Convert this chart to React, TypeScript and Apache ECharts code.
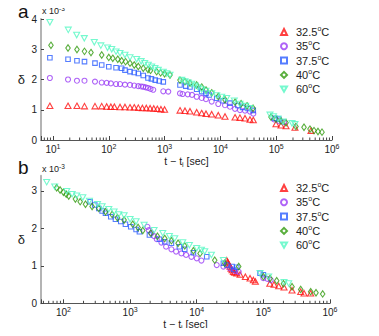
import React, { useEffect, useRef } from 'react';
import * as echarts from 'echarts';

// ---------- series meta ----------
const seriesNames = ['32.5°C', '35°C', '37.5°C', '40°C', '60°C'];
const seriesColors = ['#ff1010', '#9a3cf5', '#2a5cff', '#2f9a0c', '#52f7c2'];
const seriesSymbols = ['triangle', 'circle', 'rect', 'diamond', 'path://M0,0L10,0L5,8.66Z'];
const seriesSizes: any[] = [[6, 5.5], 5, 4.5, [4.5, 6.5], [6, 5.5]];

// ---------- panel a : [t - ti (sec), delta (x1e-3)] ----------
const a325: [number, number][] = [
  [8.8, 1.13], [18.6, 1.13], [26.9, 1.13], [36.7, 1.12], [56.6, 1.12], [74.7, 1.12], [91.7, 1.11], [109, 1.1],
  [126, 1.1], [159, 1.09], [195, 1.09], [240, 1.08], [286, 1.08], [338, 1.07], [400, 1.06], [470, 1.06],
  [550, 1.05], [640, 1.04], [740, 1.03], [860, 1.02], [1000, 1.01],
  [1890, 0.98], [2320, 0.97], [2850, 0.95], [3760, 0.92], [4620, 0.89], [5520, 0.87], [6980, 0.85],
  [9160, 0.82], [12100, 0.78], [18300, 0.75], [22400, 0.74], [27600, 0.72], [33900, 0.68], [38900, 0.66],
  [99100, 0.53], [121900, 0.49], [150000, 0.46], [217000, 0.41], [420000, 0.31],
];
const a35: [number, number][] = [
  [8.8, 2.05], [18.6, 2.0], [26.9, 1.96], [36.7, 1.96], [56.6, 1.93], [74.7, 1.9], [91.7, 1.89], [109, 1.87],
  [135, 1.85], [159, 1.85], [195, 1.83], [240, 1.82], [286, 1.8], [338, 1.78], [380, 1.77], [415, 1.76],
  [460, 1.74], [504, 1.72], [560, 1.69], [627, 1.66], [948, 1.61], [1165, 1.6],
  [1888, 1.54], [2100, 1.52], [2600, 1.51], [3100, 1.49], [3758, 1.43], [4620, 1.39], [5520, 1.35],
  [6980, 1.27], [9160, 1.19], [12100, 1.15], [14860, 1.1], [18280, 1.03], [22440, 0.99], [27600, 0.97],
  [33900, 0.94], [38900, 0.87],
  [91400, 0.68], [112200, 0.63], [138000, 0.59],
];
const a375: [number, number][] = [
  [8.8, 2.72], [18.6, 2.67], [26.9, 2.62], [36.7, 2.59], [56.6, 2.54], [74.7, 2.48], [100, 2.42], [135, 2.39],
  [170, 2.37], [195, 2.31], [240, 2.26], [286, 2.23], [338, 2.2], [415, 2.13], [504, 2.05], [580, 2.02],
  [680, 1.98], [800, 1.95], [948, 1.92],
  [1888, 1.82], [2400, 1.78], [2851, 1.75], [3758, 1.68], [4620, 1.6], [5520, 1.54], [6300, 1.49],
  [8600, 1.38], [11200, 1.3], [14860, 1.22], [20600, 1.14], [25000, 1.08], [31300, 1.04], [38800, 0.98],
  [95000, 0.72], [111000, 0.69],
];
const a40: [number, number][] = [
  [9.2, 3.13], [18.6, 3.04], [26.9, 2.99], [36.7, 2.93], [48, 2.89], [74.7, 2.81], [100, 2.73], [118, 2.7],
  [145, 2.67], [170, 2.62], [200, 2.59], [240, 2.54], [286, 2.48], [338, 2.43], [415, 2.37], [504, 2.33],
  [560, 2.3], [721, 2.26], [850, 2.22], [1000, 2.19], [1250, 2.15],
  [1888, 1.98], [2321, 1.93], [2851, 1.88], [3758, 1.82], [4620, 1.75], [5520, 1.65], [6980, 1.56],
  [9160, 1.44], [12080, 1.33], [18300, 1.25], [23500, 1.2], [30000, 1.13], [38500, 1.05],
  [80700, 0.76], [99100, 0.69], [121900, 0.63], [150000, 0.57], [226000, 0.45], [315000, 0.42],
  [403000, 0.36], [476000, 0.31], [561000, 0.28], [662000, 0.26],
];
const a60: [number, number][] = [
  [8.8, 3.89], [18.8, 3.64], [26.6, 3.47], [36.4, 3.36], [55, 3.23], [72, 3.12], [95, 3.05], [113, 3.0],
  [135, 2.92], [159, 2.87], [195, 2.81], [240, 2.73], [316, 2.67], [380, 2.6], [440, 2.54], [510, 2.48],
  [587, 2.42], [673, 2.37], [771, 2.31], [948, 2.25], [1091, 2.2], [1250, 2.15],
  [2024, 1.98], [2321, 1.93], [2660, 1.89], [3060, 1.85], [3510, 1.79], [4020, 1.73], [4620, 1.67],
  [5520, 1.62], [6980, 1.54], [8590, 1.47], [10550, 1.42], [12960, 1.38], [17740, 1.3], [22440, 1.19],
  [28400, 1.12], [33900, 1.05],
  [77400, 0.83], [89500, 0.78], [107700, 0.7], [132400, 0.6], [192000, 0.55], [217000, 0.52],
];

// ---------- panel b ----------
const b325: [number, number][] = [
  [28180, 1.15], [29000, 1.1], [29510, 1.07], [30500, 1.02], [31620, 0.98], [32700, 0.93], [33880, 0.89],
  [35480, 0.84], [37000, 0.82], [39810, 0.8], [44670, 0.77], [53700, 0.71], [63100, 0.67], [70800, 0.62],
  [75860, 0.58],
  [125000, 0.53], [144500, 0.5], [169800, 0.46], [204200, 0.43], [269200, 0.35], [363100, 0.31],
  [407400, 0.27], [512900, 0.27],
];
const b35: [number, number][] = [
  [1820, 2.04], [1905, 1.95], [2089, 1.87], [2291, 1.79], [2512, 1.71], [2951, 1.62], [3467, 1.51],
  [4169, 1.44], [4898, 1.38], [5888, 1.33], [6918, 1.29], [8318, 1.24], [10000, 1.2], [11750, 1.14],
  [19950, 1.02], [25120, 0.98], [31620, 0.93], [38020, 0.86], [42660, 0.84],
  [100000, 0.67], [114800, 0.65], [128800, 0.62],
];
const b375: [number, number][] = [
  [251, 2.71], [295, 2.62], [339, 2.53], [380, 2.46], [427, 2.4], [513, 2.31], [603, 2.24], [724, 2.18],
  [851, 2.11], [1023, 2.04], [1230, 1.97], [1380, 1.91], [1950, 1.82], [2754, 1.71], [3311, 1.64],
  [4169, 1.6], [5495, 1.51], [6607, 1.44], [8913, 1.35], [14130, 1.24], [25120, 1.07], [28180, 1.02],
  [33880, 0.98], [36000, 0.9], [39810, 0.96],
  [89100, 0.8], [100000, 0.76],
];
const b40: [number, number][] = [
  [79, 3.08], [89, 3.02], [100, 2.96], [110, 2.91], [120, 2.86], [151, 2.78], [178, 2.71], [214, 2.64],
  [269, 2.58], [339, 2.53], [427, 2.44], [537, 2.37], [646, 2.28], [813, 2.22], [1096, 2.11], [1318, 2.02],
  [1549, 1.94], [2042, 1.87], [2570, 1.79], [3311, 1.73], [4169, 1.67], [5248, 1.6], [6607, 1.53],
  [8913, 1.4], [11220, 1.33], [18620, 1.15], [26300, 1.07], [42660, 0.98],
  [100000, 0.71], [125900, 0.66], [158500, 0.6], [200000, 0.52], [269200, 0.44], [363100, 0.37],
  [512900, 0.31], [616600, 0.28], [776200, 0.25],
];
const b60: [number, number][] = [
  [56, 3.23], [74, 3.11], [112, 2.99], [135, 2.91], [158, 2.87], [195, 2.82], [245, 2.73], [324, 2.64],
  [380, 2.58], [479, 2.51], [575, 2.44], [676, 2.37], [813, 2.34], [1000, 2.24], [1230, 2.18], [1622, 2.09],
  [2291, 1.95], [3090, 1.87], [3890, 1.79], [4677, 1.73], [6166, 1.62], [7762, 1.55], [10000, 1.47],
  [11750, 1.42], [13180, 1.38], [16600, 1.29], [25120, 1.15],
  [89100, 0.8], [120200, 0.71], [204200, 0.56], [239900, 0.53],
];

const panelA = [a325, a35, a375, a40, a60];
const panelB = [b325, b35, b375, b40, b60];

// axis ranges
const aXMin = 6.1;
const bXMin = 46;
const xMax = 1e6;
const aYMax = 4;
const bYMax = 3.4;
const yTickValues = [0, 1, 2, 3, 4];

const FONT = 'Liberation Sans, Arial, Helvetica, sans-serif';

function minorTicks(lo: number, hi: number): [number, number][] {
  const out: [number, number][] = [];
  for (let e = 0; e <= 6; e++) {
    for (let k = 2; k <= 9; k++) {
      const v = k * Math.pow(10, e);
      if (v > lo && v < hi) out.push([v, 0]);
    }
  }
  return out;
}

const supRich = { sup: { fontSize: 7, verticalAlign: 'top', lineHeight: 6, fontFamily: FONT, color: '#222' } };

function logLabel(v: number) {
  const l = Math.log10(v);
  const e = Math.round(l);
  if (Math.abs(l - e) > 1e-6) return '';
  return '10{sup|' + e + '}';
}

export default function App() {
  const ref = useRef<HTMLDivElement>(null);
  useEffect(() => {
    if (!ref.current) return;
    const chart = echarts.init(ref.current, undefined, { renderer: 'svg' });

    const mkX = (idx: number, min: number) => ({
      type: 'log', gridIndex: idx, min, max: xMax, logBase: 10,
      axisLine: { show: true, lineStyle: { color: '#555', width: 1 } },
      axisTick: { show: true, inside: true, length: 4, lineStyle: { color: '#444' } },
      splitLine: { show: false },
      axisLabel: {
        formatter: logLabel, fontSize: 10, lineHeight: 12, margin: 3, color: '#222', fontFamily: FONT,
        rich: supRich,
      },
      name: 't − t{sub|i} [sec]', nameLocation: 'middle', nameGap: 14.5, nameMoveOverlap: false,
      nameTextStyle: {
        fontSize: 10.5, color: '#222', fontFamily: FONT, lineHeight: 13,
        rich: { sub: { fontSize: 7, verticalAlign: 'bottom', lineHeight: 6, fontFamily: FONT, color: '#222' } },
      },
    });
    const mkY = (idx: number, max: number) => ({
      type: 'value', gridIndex: idx, min: 0, max, interval: 1,
      axisLine: { show: true, lineStyle: { color: '#b4b4b4', width: 2 } },
      axisTick: { show: true, inside: true, length: 3, lineStyle: { color: '#444' }, customValues: yTickValues.filter(v => v <= max) },
      splitLine: { show: false },
      axisLabel: {
        fontSize: 10, color: '#222', fontFamily: FONT, margin: 4, customValues: yTickValues.filter(v => v <= max),
        formatter: (v: number) => (Math.abs(v - Math.round(v)) < 1e-9 ? String(v) : ''),
      },
      name: 'δ', nameLocation: 'middle', nameRotate: 0, nameGap: 16, nameMoveOverlap: false,
      nameTextStyle: { fontSize: 13, color: '#222', fontFamily: FONT },
    });

    const scatter = (data: [number, number][], i: number, g: number) => ({
      type: 'scatter', name: seriesNames[i], xAxisIndex: g, yAxisIndex: g, data,
      symbol: seriesSymbols[i], symbolSize: seriesSizes[i],
      itemStyle: { color: 'rgba(255,255,255,0)', borderColor: seriesColors[i], borderWidth: 1.1 },
      emphasis: { disabled: true },
    });

    const minorSeries = (g: number, lo: number) => ({
      type: 'custom', xAxisIndex: g, yAxisIndex: g, silent: true, data: minorTicks(lo, xMax),
      renderItem: (_p: any, api: any) => {
        const p = api.coord([api.value(0), 0]);
        return { type: 'line', shape: { x1: p[0], y1: p[1], x2: p[0], y2: p[1] - 2.5 }, style: { stroke: '#444', lineWidth: 1 } };
      },
    });

    const legend = (top: number) => ({
      show: true, orient: 'vertical', left: 280, top, padding: 0, itemWidth: 6, itemHeight: 6, itemGap: 0.3,
      data: seriesNames,
      formatter: (n: string) => n.replace('°', '{sup|o}'),
      textStyle: {
        fontSize: 11, color: '#222', fontFamily: FONT, lineHeight: 14, padding: [0, 0, 0, 4],
        rich: { sup: { fontSize: 7, verticalAlign: 'top', lineHeight: 6, fontFamily: FONT, color: '#222' } },
      },
      selectedMode: false,
    });

    const sciLabel = (top: number) => ({
      type: 'text', left: 42, top,
      style: { text: 'x 10{sup|-3}', fontSize: 9, fontFamily: FONT, fill: '#222', lineHeight: 11,
        rich: { sup: { fontSize: 6.5, verticalAlign: 'top', lineHeight: 5, fontFamily: FONT, fill: '#222' } } },
    });

    chart.setOption({
      animation: false,
      backgroundColor: '#fff',
      grid: [
        { left: 41, top: 19, width: 291, height: 121 },
        { left: 41, top: 175.8, width: 289, height: 127.5 },
      ],
      xAxis: [mkX(0, aXMin), mkX(1, bXMin)],
      yAxis: [mkY(0, aYMax), mkY(1, bYMax)],
      legend: [legend(25), legend(181)],
      series: [
        ...panelA.map((d, i) => scatter(d, i, 0)),
        ...panelB.map((d, i) => scatter(d, i, 1)),
        minorSeries(0, aXMin),
        minorSeries(1, bXMin),
      ],
      graphic: [
        { type: 'text', left: 18, top: 2, style: { text: 'a', fontSize: 19, fontFamily: FONT, fill: '#111' } },
        { type: 'text', left: 18, top: 158, style: { text: 'b', fontSize: 19, fontFamily: FONT, fill: '#111' } },
        sciLabel(5),
        sciLabel(163),
      ],
    });
    return () => chart.dispose();
  }, []);
  return <div ref={ref} style={{ width: 379, height: 336, margin: -8 }} />;
}
